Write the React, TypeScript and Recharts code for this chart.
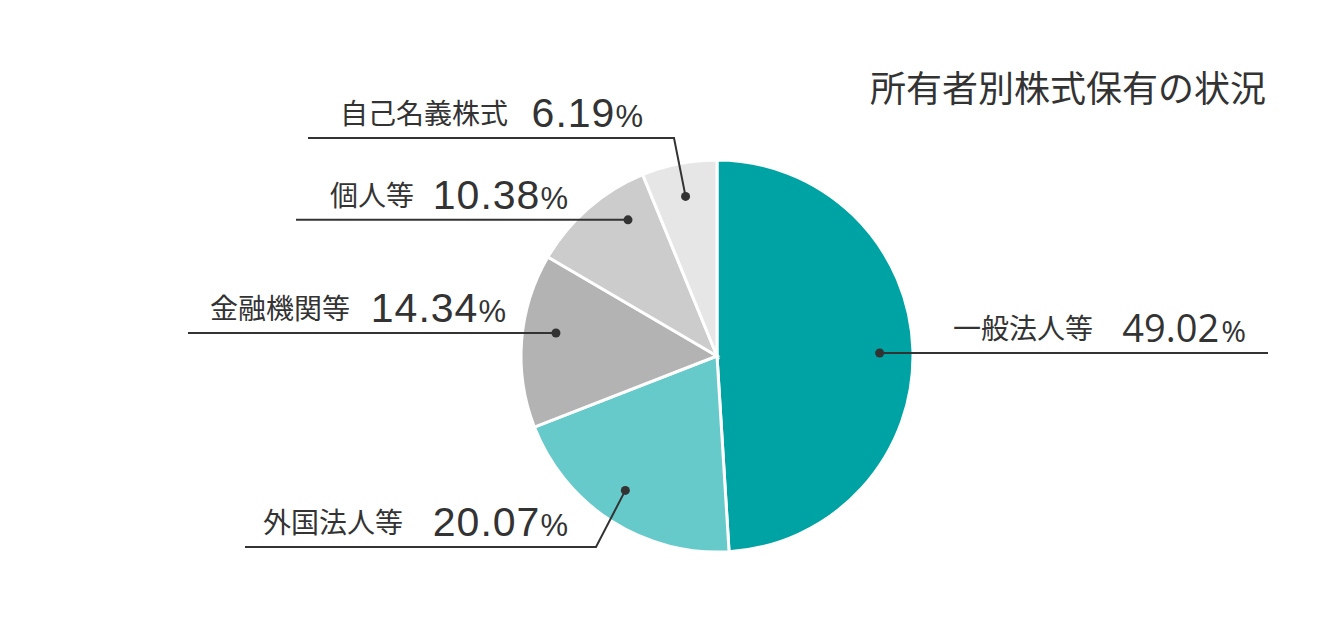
import { PieChart, Pie, Cell } from "recharts";

const owners = ["一般法人等", "外国法人等", "金融機関等", "個人等", "自己名義株式"];
const shares = [49.02, 20.07, 14.34, 10.38, 6.19];
const colors = ["#00a3a3", "#66c9ca", "#b3b3b3", "#cccccc", "#e6e6e6"];

const data = owners.map((name, i) => ({ name, value: shares[i] }));

// leader layout: offsets from the pie centre, dot angle nudge in degrees (clockwise)
const labelLayout = [
  { shift: 0.7, elbow: null, endX: 551, nameX: 236, valueEndX: 529, right: true },
  { shift: 1.7, elbow: { dx: -121, dy: 191 }, endX: -472, nameX: -454, valueEndX: -149, right: false },
  { shift: 3.6, elbow: null, endX: -529, nameX: -507, valueEndX: -211, right: false },
  { shift: 7.8, elbow: null, endX: -421, nameX: -387, valueEndX: -149, right: false },
  { shift: 0, elbow: { dx: -43, dy: -218 }, endX: -409, nameX: -377, valueEndX: -74, right: false },
];

const RAD = Math.PI / 180;
const ink = "#333333";

function renderLabel(props: any) {
  const { cx, cy, midAngle, outerRadius, index, name, value } = props;
  const lay = labelLayout[index];
  const a = midAngle - lay.shift;
  const r = outerRadius * 0.83;
  const px = cx + r * Math.cos(-a * RAD);
  const py = cy + r * Math.sin(-a * RAD);
  let pts = `${px},${py}`;
  let lineY = py;
  if (lay.elbow) {
    const ex = cx + lay.elbow.dx;
    lineY = cy + lay.elbow.dy;
    pts += ` ${ex},${lineY}`;
  }
  pts += ` ${cx + lay.endX},${lineY}`;
  const numFont = lay.right
    ? "'Open Sans', 'Noto Sans', sans-serif"
    : "'Liberation Sans', Arial, sans-serif";
  return (
    <g key={`lbl-${index}`}>
      <polyline points={pts} fill="none" stroke={ink} strokeWidth={2} />
      <circle cx={px} cy={py} r={4.5} fill={ink} />
      <text
        x={cx + lay.nameX}
        y={lineY - 14}
        fill={ink}
        fontSize={28}
        fontFamily="'Noto Sans CJK JP', sans-serif"
        textAnchor="start"
      >
        {name}
      </text>
      <text
        x={cx + lay.valueEndX}
        y={lineY - 11}
        fill={ink}
        fontFamily={numFont}
        textAnchor="end"
      >
        <tspan fontSize={lay.right ? 38 : 41} letterSpacing={lay.right ? 0 : 1}>
          {value.toFixed(2)}
        </tspan>
        <tspan fontSize={lay.right ? 30 : 31} dx={lay.right ? 2 : 0}>%</tspan>
      </text>
    </g>
  );
}

export default function App() {
  return (
    <div style={{ position: "fixed", top: 0, left: 0, width: 1340, height: 640, background: "#fff" }}>
      <PieChart width={1340} height={640} margin={{ top: 0, right: 0, bottom: 0, left: 0 }}>
        <text
          x={870}
          y={102}
          fill={ink}
          fontSize={36}
          fontFamily="'Noto Sans CJK JP', sans-serif"
        >
          所有者別株式保有の状況
        </text>
        <Pie
          data={data}
          dataKey="value"
          nameKey="name"
          cx={717}
          cy={356}
          outerRadius={196}
          startAngle={90}
          endAngle={-270}
          stroke="#ffffff"
          strokeWidth={3}
          label={renderLabel}
          labelLine={false}
          isAnimationActive={false}
        >
          {data.map((d, i) => (
            <Cell key={d.name} fill={colors[i]} />
          ))}
        </Pie>
      </PieChart>
    </div>
  );
}
